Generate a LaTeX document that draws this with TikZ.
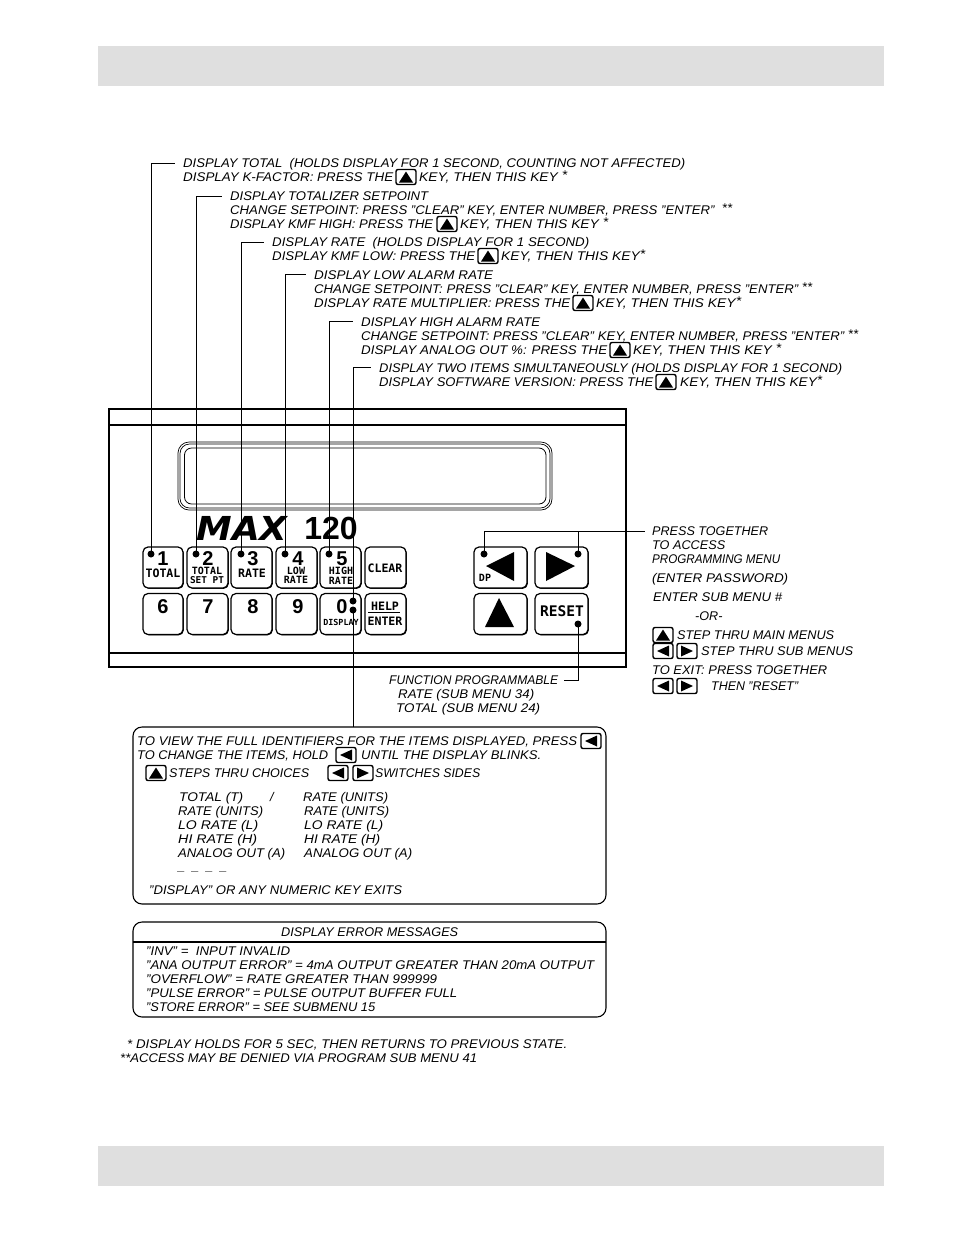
\documentclass[tikz,border=0pt]{standalone}
\usepackage{fontspec}
\usepackage{graphicx}
\setmainfont{Liberation Sans}
\newfontfamily\keyfont{DejaVu Sans Mono}
\newfontfamily\logofont{DejaVu Sans}
\usetikzlibrary{shadows}
\definecolor{band}{gray}{0.875}
\newcounter{tc}
% \W{x start}{y centre}{x end}{text}: a text line fitted between two x values
\newcommand{\W}[4]{\stepcounter{tc}\pgfmathsetlengthmacro{\wlen}{#3-#1}%
  \node[txt,name=t\arabic{tc}] at (#1,#2+4.5) {\resizebox{\wlen}{\height}{#4}};}
\newcommand{\St}{\raisebox{2.5pt}{*}}
\tikzset{
  x=1pt,y=-1pt,
  txt/.style={anchor=base west,inner sep=0pt,font=\fontsize{12.6}{14}\selectfont\itshape,text=black},
  lbl/.style={inner sep=0pt,font=\keyfont\bfseries\fontsize{11.6}{11.6}\selectfont},
  lbs/.style={inner sep=0pt,font=\keyfont\bfseries\fontsize{10}{10}\selectfont},
  num/.style={inner sep=0pt,font=\bfseries\fontsize{20}{20}\selectfont},
  btn/.style={draw,line width=1.2pt,fill=white,rounded corners=5pt,inner sep=0pt,
    drop shadow={opacity=1,fill=black,shadow xshift=.8pt,shadow yshift=-.8pt}},
  dotk/.style={circle,fill=black,inner sep=0pt,minimum size=7pt},
  wire/.style={line width=.9pt},
  frame/.style={line width=1.1pt},
  keyicon/.style={draw,line width=1.4pt,rounded corners=2pt},
}
% small key icons
\newcommand{\KU}[2]{\draw[keyicon] (#1,#2-7.5) rectangle (#1+20,#2+7.5);\fill (#1+10,#2-5.5) -- (#1+17,#2+5.5) -- (#1+3,#2+5.5) -- cycle;}
\newcommand{\KL}[2]{\draw[keyicon] (#1,#2-7.5) rectangle (#1+20,#2+7.5);\fill (#1+4,#2) -- (#1+16,#2-5.5) -- (#1+16,#2+5.5) -- cycle;}
\newcommand{\KR}[2]{\draw[keyicon] (#1,#2-7.5) rectangle (#1+20,#2+7.5);\fill (#1+16,#2) -- (#1+4,#2-5.5) -- (#1+4,#2+5.5) -- cycle;}
\newcommand{\B}[5]{\node[btn,minimum width=#4pt,minimum height=#5pt,name=#1] at (#2,#3) {};}
\begin{document}
\begin{tikzpicture}
\useasboundingbox (0,0) rectangle (954,1235);
\fill[band] (98,46) rectangle (884,86);
\fill[band] (98,1146) rectangle (884,1186);

% panel
\draw[frame] (109,409) rectangle (626,667);
\draw[frame] (109,425) -- (626,425);
\draw[frame] (109,653) -- (626,653);
\draw[line width=.7pt,rounded corners=11pt] (178,442) rectangle (552,510);
\draw[line width=.7pt,rounded corners=9.5pt] (180,444) rectangle (550,508);
\draw[line width=.8pt,rounded corners=7pt] (184.5,448) rectangle (546,504);

% logo
\node[inner sep=0pt,name=logo] at (242,528) {\resizebox{91pt}{\height}{\logofont\bfseries\itshape\fontsize{33}{33}\selectfont MAX}};
\node[inner sep=0pt,name=model] at (331,528) {\bfseries\fontsize{32}{32}\selectfont 120};

% buttons
\B{b1}{163}{567.5}{40}{41}
\B{b2}{207.5}{567.5}{41}{41}
\B{b3}{251.5}{567.5}{41}{41}
\B{b4}{296.5}{567.5}{41}{41}
\B{b5}{340.5}{567.5}{41}{41}
\B{bc}{385.5}{567.5}{41}{41}
\B{b6}{163}{614}{40}{41}
\B{b7}{207.5}{614}{41}{41}
\B{b8}{251.5}{614}{41}{41}
\B{b9}{296.5}{614}{41}{41}
\B{b0}{340.5}{614}{41}{41}
\B{be}{385.5}{614}{41}{41}
\B{bl}{500.5}{567.5}{53}{41}
\B{br}{561.5}{567.5}{53}{41}
\B{bu}{500.5}{614}{53}{41}
\B{bs}{561.5}{614}{53}{41}

\node[num,name=n1] at (163,559) {1};
\node[num,name=n2] at (208,559) {2};
\node[num,name=n3] at (253,559) {3};
\node[num,name=n4] at (298,559) {4};
\node[num,name=n5] at (342,559) {5};
\node[num,name=n6] at (163,607) {6};
\node[num,name=n7] at (208,607) {7};
\node[num,name=n8] at (253,607) {8};
\node[num,name=n9] at (298,607) {9};
\node[num,name=n0] at (342,607) {0};
\node[lbl,name=l1] at (163,573) {TOTAL};
\node[lbs,name=l2a] at (207,571) {TOTAL};
\node[lbs,name=l2b,font=\keyfont\bfseries\fontsize{9.4}{9.4}\selectfont] at (207,580) {SET PT};
\node[lbl,name=l3] at (252,573) {RATE};
\node[lbs,name=l4a] at (296,571) {LOW};
\node[lbs,name=l4b] at (296,580) {RATE};
\node[lbs,name=l5a] at (341,571) {HIGH};
\node[lbs,name=l5b] at (341,581) {RATE};
\node[lbl,name=lc] at (385,568) {CLEAR};
\node[lbs,name=ld,font=\keyfont\bfseries\fontsize{8.4}{8.4}\selectfont] at (341,622) {DISPLAY};
\node[lbl,name=lh] at (385,606) {HELP};
\node[lbl,name=ln] at (385,621) {ENTER};
\draw[line width=1pt] (368,612.5) -- (400,612.5);
\node[lbs,name=ldp] at (485,578) {DP};
\node[lbl,name=lr,font=\keyfont\bfseries\fontsize{14.6}{14.6}\selectfont] at (562,611) {RESET};
\fill (514,552) -- (514,581) -- (486,566) -- cycle;
\fill (546,552) -- (546,581) -- (575,566) -- cycle;
\fill (499,598) -- (514,627) -- (485,627) -- cycle;

% dots
\foreach \n/\x/\y in {d1/151/554,d2/196/554,d3/241/554,d4/285/554,d5/329/554,d6/353/601,d7/353/610,dl/484/554,dr/578/554,ds/578/624}
  \node[dotk,name=\n] at (\x,\y) {};

% anchors of connectors
\coordinate (c1) at (175,163);
\coordinate (c2) at (222,196);
\coordinate (c3) at (264,242);
\coordinate (c4) at (306,274);
\coordinate (c5) at (353,321);
\coordinate (c6) at (371,367);
\coordinate (c7) at (645,531);
\coordinate (c8) at (564,680);
\coordinate (c9) at (353,727);
\coordinate (cj) at (578,531);
\draw[wire] (d1.center) |- (c1);
\draw[wire] (d2.center) |- (c2);
\draw[wire] (d3.center) |- (c3);
\draw[wire] (d4.center) |- (c4);
\draw[wire] (d5.center) |- (c5);
\draw[wire] (d6.center) |- (c6);
\draw[wire] (d7.center) -- (c9);
\draw[wire] (dl.center) |- (c7);
\draw[wire] (dr.center) -- (cj);
\draw[wire] (ds.center) |- (c8);

% upper labels
\W{183}{163}{685}{DISPLAY TOTAL\ \ (HOLDS DISPLAY FOR 1 SECOND, COUNTING NOT AFFECTED)}
\W{183}{177}{393}{DISPLAY K-FACTOR: PRESS THE}\KU{396}{177}\W{419}{177}{567}{KEY, THEN THIS KEY \St}
\W{230}{196}{428}{DISPLAY TOTALIZER SETPOINT}
\W{230}{210}{732}{CHANGE SETPOINT: PRESS "CLEAR" KEY, ENTER NUMBER, PRESS "ENTER"\ \ \St\St}
\W{230}{224}{433}{DISPLAY KMF HIGH: PRESS THE}\KU{437}{224}\W{460}{224}{608}{KEY, THEN THIS KEY \St}
\W{272}{242}{589}{DISPLAY RATE\ \ (HOLDS DISPLAY FOR 1 SECOND)}
\W{272}{256}{475}{DISPLAY KMF LOW: PRESS THE}\KU{478}{256}\W{501}{256}{645}{KEY, THEN THIS KEY\St}
\W{314}{275}{493}{DISPLAY LOW ALARM RATE}
\W{314}{289}{812}{CHANGE SETPOINT: PRESS "CLEAR" KEY, ENTER NUMBER, PRESS "ENTER" \St\St}
\W{314}{303}{570}{DISPLAY RATE MULTIPLIER: PRESS THE}\KU{573}{303}\W{596}{303}{741}{KEY, THEN THIS KEY\St}
\W{361}{322}{540}{DISPLAY HIGH ALARM RATE}
\W{361}{336}{858}{CHANGE SETPOINT: PRESS "CLEAR" KEY, ENTER NUMBER, PRESS "ENTER" \St\St}
\W{361}{350}{607}{DISPLAY ANALOG OUT \%: PRESS THE}\KU{610}{350}\W{633}{350}{781}{KEY, THEN THIS KEY \St}
\W{379}{368}{842}{DISPLAY TWO ITEMS SIMULTANEOUSLY (HOLDS DISPLAY FOR 1 SECOND)}
\W{379}{382}{653}{DISPLAY SOFTWARE VERSION: PRESS THE}\KU{656}{382}\W{680}{382}{822}{KEY, THEN THIS KEY\St}

% right labels
\W{652}{531}{768}{PRESS TOGETHER}
\W{652}{545}{725}{TO ACCESS}
\W{652}{559}{780}{PROGRAMMING MENU}
\W{652}{578}{788}{(ENTER PASSWORD)}
\W{653}{597}{782}{ENTER SUB MENU \#}
\stepcounter{tc}\node[txt,name=t\arabic{tc}] at (695,620.5) {-OR-};
\KU{653}{635}\W{677}{635}{834}{STEP THRU MAIN MENUS}
\KL{653}{651}\KR{677}{651}\W{701}{651}{853}{STEP THRU SUB MENUS}
\W{652}{670}{827}{TO EXIT: PRESS TOGETHER}
\KL{653}{686}\KR{677}{686}\W{711}{686}{798}{THEN "RESET"}

% function
\W{389}{680}{558}{FUNCTION PROGRAMMABLE}
\W{398}{694}{534}{RATE (SUB MENU 34)}
\W{396}{708}{540}{TOTAL (SUB MENU 24)}

% box 1
\draw[frame,rounded corners=9pt] (133,727) rectangle (606,904);
\W{137}{741}{577}{TO VIEW THE FULL IDENTIFIERS FOR THE ITEMS DISPLAYED, PRESS}\KL{581}{741}
\W{137}{755}{328}{TO CHANGE THE ITEMS, HOLD}\KL{336}{755}\W{361}{755}{541}{UNTIL THE DISPLAY BLINKS.}
\KU{146}{773}\W{169}{773}{309}{STEPS THRU CHOICES}\KL{328}{773}\KR{353}{773}\W{375}{773}{480}{SWITCHES SIDES}
\W{179}{797}{243}{TOTAL (T)}\W{303}{797}{388}{RATE (UNITS)}
\stepcounter{tc}\node[txt,name=t\arabic{tc}] at (270,801.5) {/};
\W{178}{811}{263}{RATE (UNITS)}\W{304}{811}{389}{RATE (UNITS)}
\W{178}{825}{258}{LO RATE (L)}\W{304}{825}{383}{LO RATE (L)}
\W{178}{839}{257}{HI RATE (H)}\W{304}{839}{380}{HI RATE (H)}
\W{178}{853}{285}{ANALOG OUT (A)}\W{304}{853}{412}{ANALOG OUT (A)}
\stepcounter{tc}\node[txt,name=t\arabic{tc}] at (178,870.5) {\_ \ \_ \ \_ \ \_};
\W{149}{890}{402}{"DISPLAY" OR ANY NUMERIC KEY EXITS}

% box 2
\draw[frame,rounded corners=9pt] (133,922) rectangle (606,1017);
\draw[frame] (133,942) -- (606,942);
\W{281}{932}{458}{DISPLAY ERROR MESSAGES}
\W{146}{951}{290}{"INV" = \ INPUT INVALID}
\W{146}{965}{594}{"ANA OUTPUT ERROR" = 4mA OUTPUT GREATER THAN 20mA OUTPUT}
\W{146}{979}{437}{"OVERFLOW" = RATE GREATER THAN 999999}
\W{146}{993}{457}{"PULSE ERROR" = PULSE OUTPUT BUFFER FULL}
\W{146}{1007}{375}{"STORE ERROR" = SEE SUBMENU 15}

% notes
\W{127}{1044}{567}{* DISPLAY HOLDS FOR 5 SEC, THEN RETURNS TO PREVIOUS STATE.}
\W{120}{1058}{477}{**ACCESS MAY BE DENIED VIA PROGRAM SUB MENU 41}
\end{tikzpicture}
\end{document}
